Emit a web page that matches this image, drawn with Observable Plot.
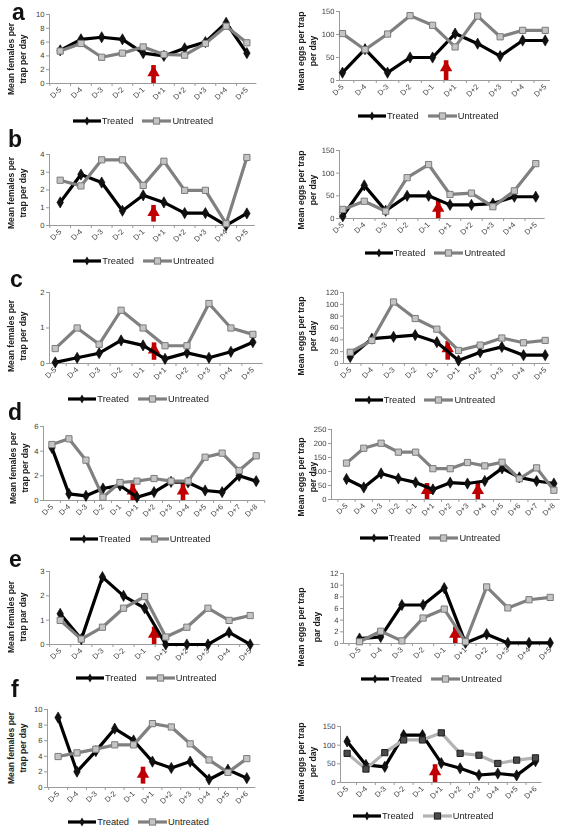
<!DOCTYPE html>
<html><head><meta charset="utf-8">
<script src="https://cdn.jsdelivr.net/npm/d3@7"></script>
<script src="https://cdn.jsdelivr.net/npm/@observablehq/plot@0.6"></script>
<style>
body{margin:0;background:#fff;font-family:"Liberation Sans",Arial,sans-serif;-webkit-font-smoothing:antialiased;}
#page{position:relative;width:567px;height:827px;overflow:hidden;background:#fff;}
.letter{position:absolute;font-weight:bold;font-size:23px;line-height:1;color:#111;}
.ytitle{position:absolute;transform:translate(-50%,-50%) rotate(-90deg);font-weight:bold;font-size:8.6px;line-height:11.5px;text-align:center;white-space:nowrap;color:#1a1a1a;}
.legend{position:absolute;display:flex;align-items:center;height:14px;font-size:9.3px;color:#222;white-space:nowrap;}
.legend svg{display:block;}
svg text{text-rendering:geometricPrecision;}
.xlab{opacity:0.99;will-change:transform;}
</style></head><body><div id="page"></div>
<script>
// ---------- categories ----------
const cats10 = ["D-5","D-4","D-3","D-2","D-1","D+1","D+2","D+3","D+4","D+5"];
const cats13 = ["D-5","D-4","D-3","D-2","D-1","D+1","D+2","D+3","D+4","D+5","D+6","D+7","D+8"];
const cats12 = ["D-5","D-4","D-3","D-2","D-1","D+1","D+2","D+3","D+4","D+5","D+6"];

// ---------- series values ----------
const aFemT = [4.8,6.4,6.7,6.4,4.4,4.0,5.1,6.0,8.8,4.4];
const aFemU = [4.7,5.8,3.8,4.4,5.3,4.2,4.1,5.8,8.3,5.9];
const aEggT = [17,68,17,50,50,102,80,53,87,87];
const aEggU = [102,67,101,141,120,73,140,95,109,109];
const bFemT = [1.3,2.87,2.42,0.83,1.7,1.3,0.7,0.7,0,0.68];
const bFemU = [2.55,2.23,3.7,3.7,2.26,3.62,1.98,1.98,0.1,3.83];
const bEggT = [5,73,17,50,50,30,30,33,48,48];
const bEggU = [20,38,16,90,119,53,56,26,61,121];
const cFemT = [0.03,0.16,0.29,0.65,0.51,0.13,0.3,0.16,0.33,0.6];
const cFemU = [0.42,1.0,0.54,1.5,1.0,0.5,0.5,1.69,1.0,0.82];
const cEggT = [11,42,45,48,36,5,19,28,14,14];
const cEggU = [19,39,104,76,58,22,31,43,35,39];
const dFemT = [4.27,0.54,0.38,0.97,1.22,0.27,0.68,1.51,1.46,0.81,0.68,2.0,1.57];
const dFemU = [4.54,5.0,3.27,0.27,1.46,1.57,1.78,1.57,1.57,3.51,3.84,2.43,3.62];
const dEggT = [73,43,93,75,61,36,60,57,66,111,79,66,57];
const dEggU = [130,183,201,169,169,110,110,132,120,133,74,113,33];
const eFemT = [1.26,0.22,2.77,2.0,1.49,0,0,0,0.5,0];
const eFemU = [0.99,0.22,0.71,1.49,1.97,0.31,0.71,1.49,0.99,1.19];
const eEggT = [0.85,1.13,6.6,6.6,9.5,0.1,1.6,0.1,0.1,0.1];
const eEggU = [0.3,2.1,0.45,4.36,5.9,0.3,9.7,6.1,7.5,7.9];
const fFemT = [8.97,2.03,4.66,7.54,6.03,3.32,2.5,3.32,1.03,2.28,1.2];
const fFemU = [3.97,4.44,4.91,5.47,5.47,8.19,7.76,5.6,3.53,1.94,3.7];
const fEggT = [110,47,42,127,127,52,38,20,24,19,57];
const fEggU = [78,36,80,114,114,133,78,73,51,60,66];

// ---------- treatment arrows (category index, y from, y to) ----------
const aFemArrows = [{at:4.5,from:0,to:2.6}];
const aEggArrows = [{at:4.6,from:0,to:43}];
const bFemArrows = [{at:4.5,from:0.19,to:1.13}];
const bEggArrows = [{at:4.45,from:0,to:38}];
const cFemArrows = [{at:4.5,from:0.09,to:0.58}];
const cEggArrows = [{at:4.5,from:5.6,to:37}];
const dFemArrows = [{at:4.75,from:0,to:1.35},{at:7.7,from:0,to:1.35}];
const dEggArrows = [{at:4.66,from:0,to:57},{at:7.6,from:0,to:57}];
const eFemArrows = [{at:4.45,from:0,to:0.71}];
const eEggArrows = [{at:4.52,from:0,to:2.8}];
const fFemArrows = [{at:4.5,from:0.43,to:2.6}];
const fEggArrows = [{at:4.67,from:0,to:47.6}];

// ---------- axis maxima / tick steps ----------
const yMaxes = {aF:10,aE:150,bF:4,bE:150,cF:2,cE:120,dF:6,dE:250,eF:3,eE:12,fF:10,fE:150};
const ySteps = {aF:2,aE:50,bF:1,bE:50,cF:1,cE:20,dF:2,dE:50,eF:1,eE:2,fF:2,fE:50};

// ---------- titles ----------
const femTitle = ["Mean females per","trap per day"];
const eggTitle = ["Mean eggs per trap","per day"];
const femTitleE = ["Mean females per","trap par day"];
const eggTitleE = ["Mean eggs per trap","par day"];
const letters = ["a","b","c","d","e","f"];

// ---------- layout (page pixels) ----------
const panels = [
 {k:"aF",cats:cats10,t:aFemT,u:aFemU,ar:aFemArrows,title:femTitle,L:{axisL:49.3,axisR:256.7,p0:60,p1:246.7,yTop:14,yBot:83,tx:17,ty:59,lx:72.7,ly:120.7}},
 {k:"aE",cats:cats10,t:aEggT,u:aEggU,ar:aEggArrows,title:eggTitle,L:{axisL:339,axisR:550,p0:342,p1:544.7,yTop:11,yBot:80,tx:306.5,ty:51,lx:358,ly:116.3}},
 {k:"bF",cats:cats10,t:bFemT,u:bFemU,ar:bFemArrows,title:femTitle,L:{axisL:49.3,axisR:255,p0:60,p1:246.7,yTop:154,yBot:225,tx:17,ty:193,lx:73.3,ly:260.7}},
 {k:"bE",cats:cats10,t:bEggT,u:bEggU,ar:bEggArrows,title:eggTitle,L:{axisL:339,axisR:544.7,p0:342.3,p1:535.3,yTop:150,yBot:218,tx:306.5,ty:190,lx:364.7,ly:252.7}},
 {k:"cF",cats:cats10,t:cFemT,u:cFemU,ar:cFemArrows,title:femTitle,L:{axisL:49.3,axisR:263,p0:55,p1:252.7,yTop:292,yBot:363,tx:17,ty:336,lx:68.3,ly:399.3}},
 {k:"cE",cats:cats10,t:cEggT,u:cEggU,ar:cEggArrows,title:eggTitle,L:{axisL:343,axisR:549.7,p0:349.7,p1:544.7,yTop:292,yBot:363,tx:306.5,ty:336,lx:354.7,ly:400}},
 {k:"dF",cats:cats13,t:dFemT,u:dFemU,ar:dFemArrows,title:femTitle,L:{axisL:43.3,axisR:265,p0:51.7,p1:256,yTop:426,yBot:500,tx:19,ty:468,lx:70,ly:539.3}},
 {k:"dE",cats:cats13,t:dEggT,u:dEggU,ar:dEggArrows,title:eggTitle,L:{axisL:331.3,axisR:560,p0:346.3,p1:553.7,yTop:429,yBot:499,tx:306.5,ty:477,lx:359.7,ly:538.3}},
 {k:"eF",cats:cats10,t:eFemT,u:eFemU,ar:eFemArrows,title:femTitleE,L:{axisL:49.3,axisR:260,p0:60,p1:250,yTop:571,yBot:644,tx:17,ty:617,lx:76,ly:678.3}},
 {k:"eE",cats:cats10,t:eEggT,u:eEggU,ar:eEggArrows,title:eggTitleE,L:{axisL:343,axisR:553,p0:359,p1:549.7,yTop:573,yBot:643,tx:308.5,ty:627,lx:361.3,ly:679,lh:16}},
 {k:"fF",cats:cats12,t:fFemT,u:fFemU,ar:fFemArrows,title:femTitle,L:{axisL:46.7,axisR:255,p0:57.3,p1:246,yTop:709,yBot:787,tx:17,ty:748,lx:68.3,ly:821.7}},
 {k:"fE",cats:cats12,t:fEggT,u:fEggU,ar:fEggArrows,title:eggTitle,dark:true,L:{axisL:339.7,axisR:541.3,p0:346.3,p1:534.7,yTop:726,yBot:782,tx:307,ty:762,lx:353,ly:816}}
];
const letterPos = [{x:12,y:1},{x:8,y:128},{x:10,y:268},{x:8,y:401},{x:9,y:548},{x:11,y:678}];

const AXIS = "#9a9a9a", TICKTXT = "#3a3a3a", ARROW = "#c00000";
const page = document.getElementById("page");
const mL = 26, mR = 10, mT = 8, mB = 28;

for (const p of panels) {
  const L = p.L, n = p.cats.length;
  const step = (L.p1 - L.p0) / (n - 1);
  const lo = (L.axisL - L.p0) / step;
  const hi = (n - 1) + (L.axisR - L.p1) / step;
  const width = mL + (L.axisR - L.axisL) + mR;
  const height = mT + (L.yBot - L.yTop) + mB;
  const yMax = yMaxes[p.k], yStep = ySteps[p.k];
  const rows = p.cats.map((c, i) => ({i, t: p.t[i], u: p.u[i]}));
  const bounds = d3.range(n + 1).map(i => i - 0.5).filter(v => v >= lo - 1e-6 && v <= hi + 1e-6);
  const uLine = p.dark ? "#b3b3b3" : "#808080";
  const uFill = p.dark ? "#4a4a4a" : "#c4c4c4";
  const uStroke = p.dark ? "#1e1e1e" : "#7a7a7a";
  const chart = Plot.plot({
    width, height, marginLeft: mL, marginRight: mR, marginTop: mT, marginBottom: mB,
    style: {background: "#fff", overflow: "visible", fontFamily: "'Liberation Sans', Arial, sans-serif"},
    x: {type: "linear", domain: [lo, hi]},
    y: {domain: [0, yMax]},
    marks: [
      Plot.axisY({ticks: d3.range(0, yMax + yStep / 2, yStep), tickFormat: d => String(d), tickSize: 3, tickPadding: 2, fontSize: 7.6, fill: TICKTXT, stroke: AXIS, label: null}),
      Plot.axisX({ticks: bounds, tickSize: 3, tickFormat: () => "", stroke: AXIS, label: null}),
      Plot.axisX({ticks: d3.range(n), tickSize: 0, tickPadding: 5, tickRotate: -45, tickFormat: i => p.cats[Math.round(i)], fontSize: 7.6, fill: TICKTXT, fillOpacity: 0.98, className: "xlab", label: null}),
      Plot.ruleY([0], {stroke: AXIS}),
      Plot.ruleX([lo], {stroke: AXIS}),
      Plot.ruleX(p.ar, {x: "at", y1: "from", y2: "to", stroke: ARROW, strokeWidth: 4.6}),
      Plot.dot(p.ar, {x: "at", y: "to", symbol: "triangle", r: 4.6, fill: ARROW, dy: 7}),
      Plot.line(rows, {x: "i", y: "t", stroke: "#000", strokeWidth: 3.2}),
      Plot.dot(rows, {x: "i", y: "t", symbol: "diamond", r: 3.4, fill: "#111", stroke: "#000", strokeWidth: 0.6}),
      Plot.line(rows, {x: "i", y: "u", stroke: uLine, strokeWidth: 3.2}),
      Plot.dot(rows, {x: "i", y: "u", symbol: "square", r: 3.5, fill: uFill, stroke: uStroke, strokeWidth: 1})
    ]
  });
  chart.style.position = "absolute";
  chart.style.left = (L.axisL - mL) + "px";
  chart.style.top = (L.yTop - mT) + "px";
  chart.style.maxWidth = "none";
  page.appendChild(chart);

  const t = document.createElement("div");
  t.className = "ytitle";
  t.style.left = L.tx + "px"; t.style.top = L.ty + "px";
  if (L.lh) t.style.lineHeight = L.lh + "px";
  t.innerHTML = p.title.join("<br>");
  page.appendChild(t);

  const lg = document.createElement("div");
  lg.className = "legend";
  lg.style.left = L.lx + "px"; lg.style.top = (L.ly - 7) + "px";
  lg.innerHTML =
    `<svg width="28" height="14"><line x1="0" x2="28" y1="7" y2="7" stroke="#000" stroke-width="3.2"/><path d="M14,2.6 L16.6,7 L14,11.4 L11.4,7Z" fill="#111"/></svg>` +
    `<span style="margin:0 9px 0 1px">Treated</span>` +
    `<svg width="29" height="14"><line x1="0" x2="29" y1="7" y2="7" stroke="${uLine}" stroke-width="3.2"/><rect x="11.4" y="3.9" width="6.2" height="6.2" fill="${uFill}" stroke="${uStroke}"/></svg>` +
    `<span style="margin-left:1px">Untreated</span>`;
  page.appendChild(lg);
}
letters.forEach((l, i) => {
  const d = document.createElement("div");
  d.className = "letter"; d.textContent = l;
  d.style.left = letterPos[i].x + "px"; d.style.top = letterPos[i].y + "px";
  page.appendChild(d);
});
</script></body></html>
